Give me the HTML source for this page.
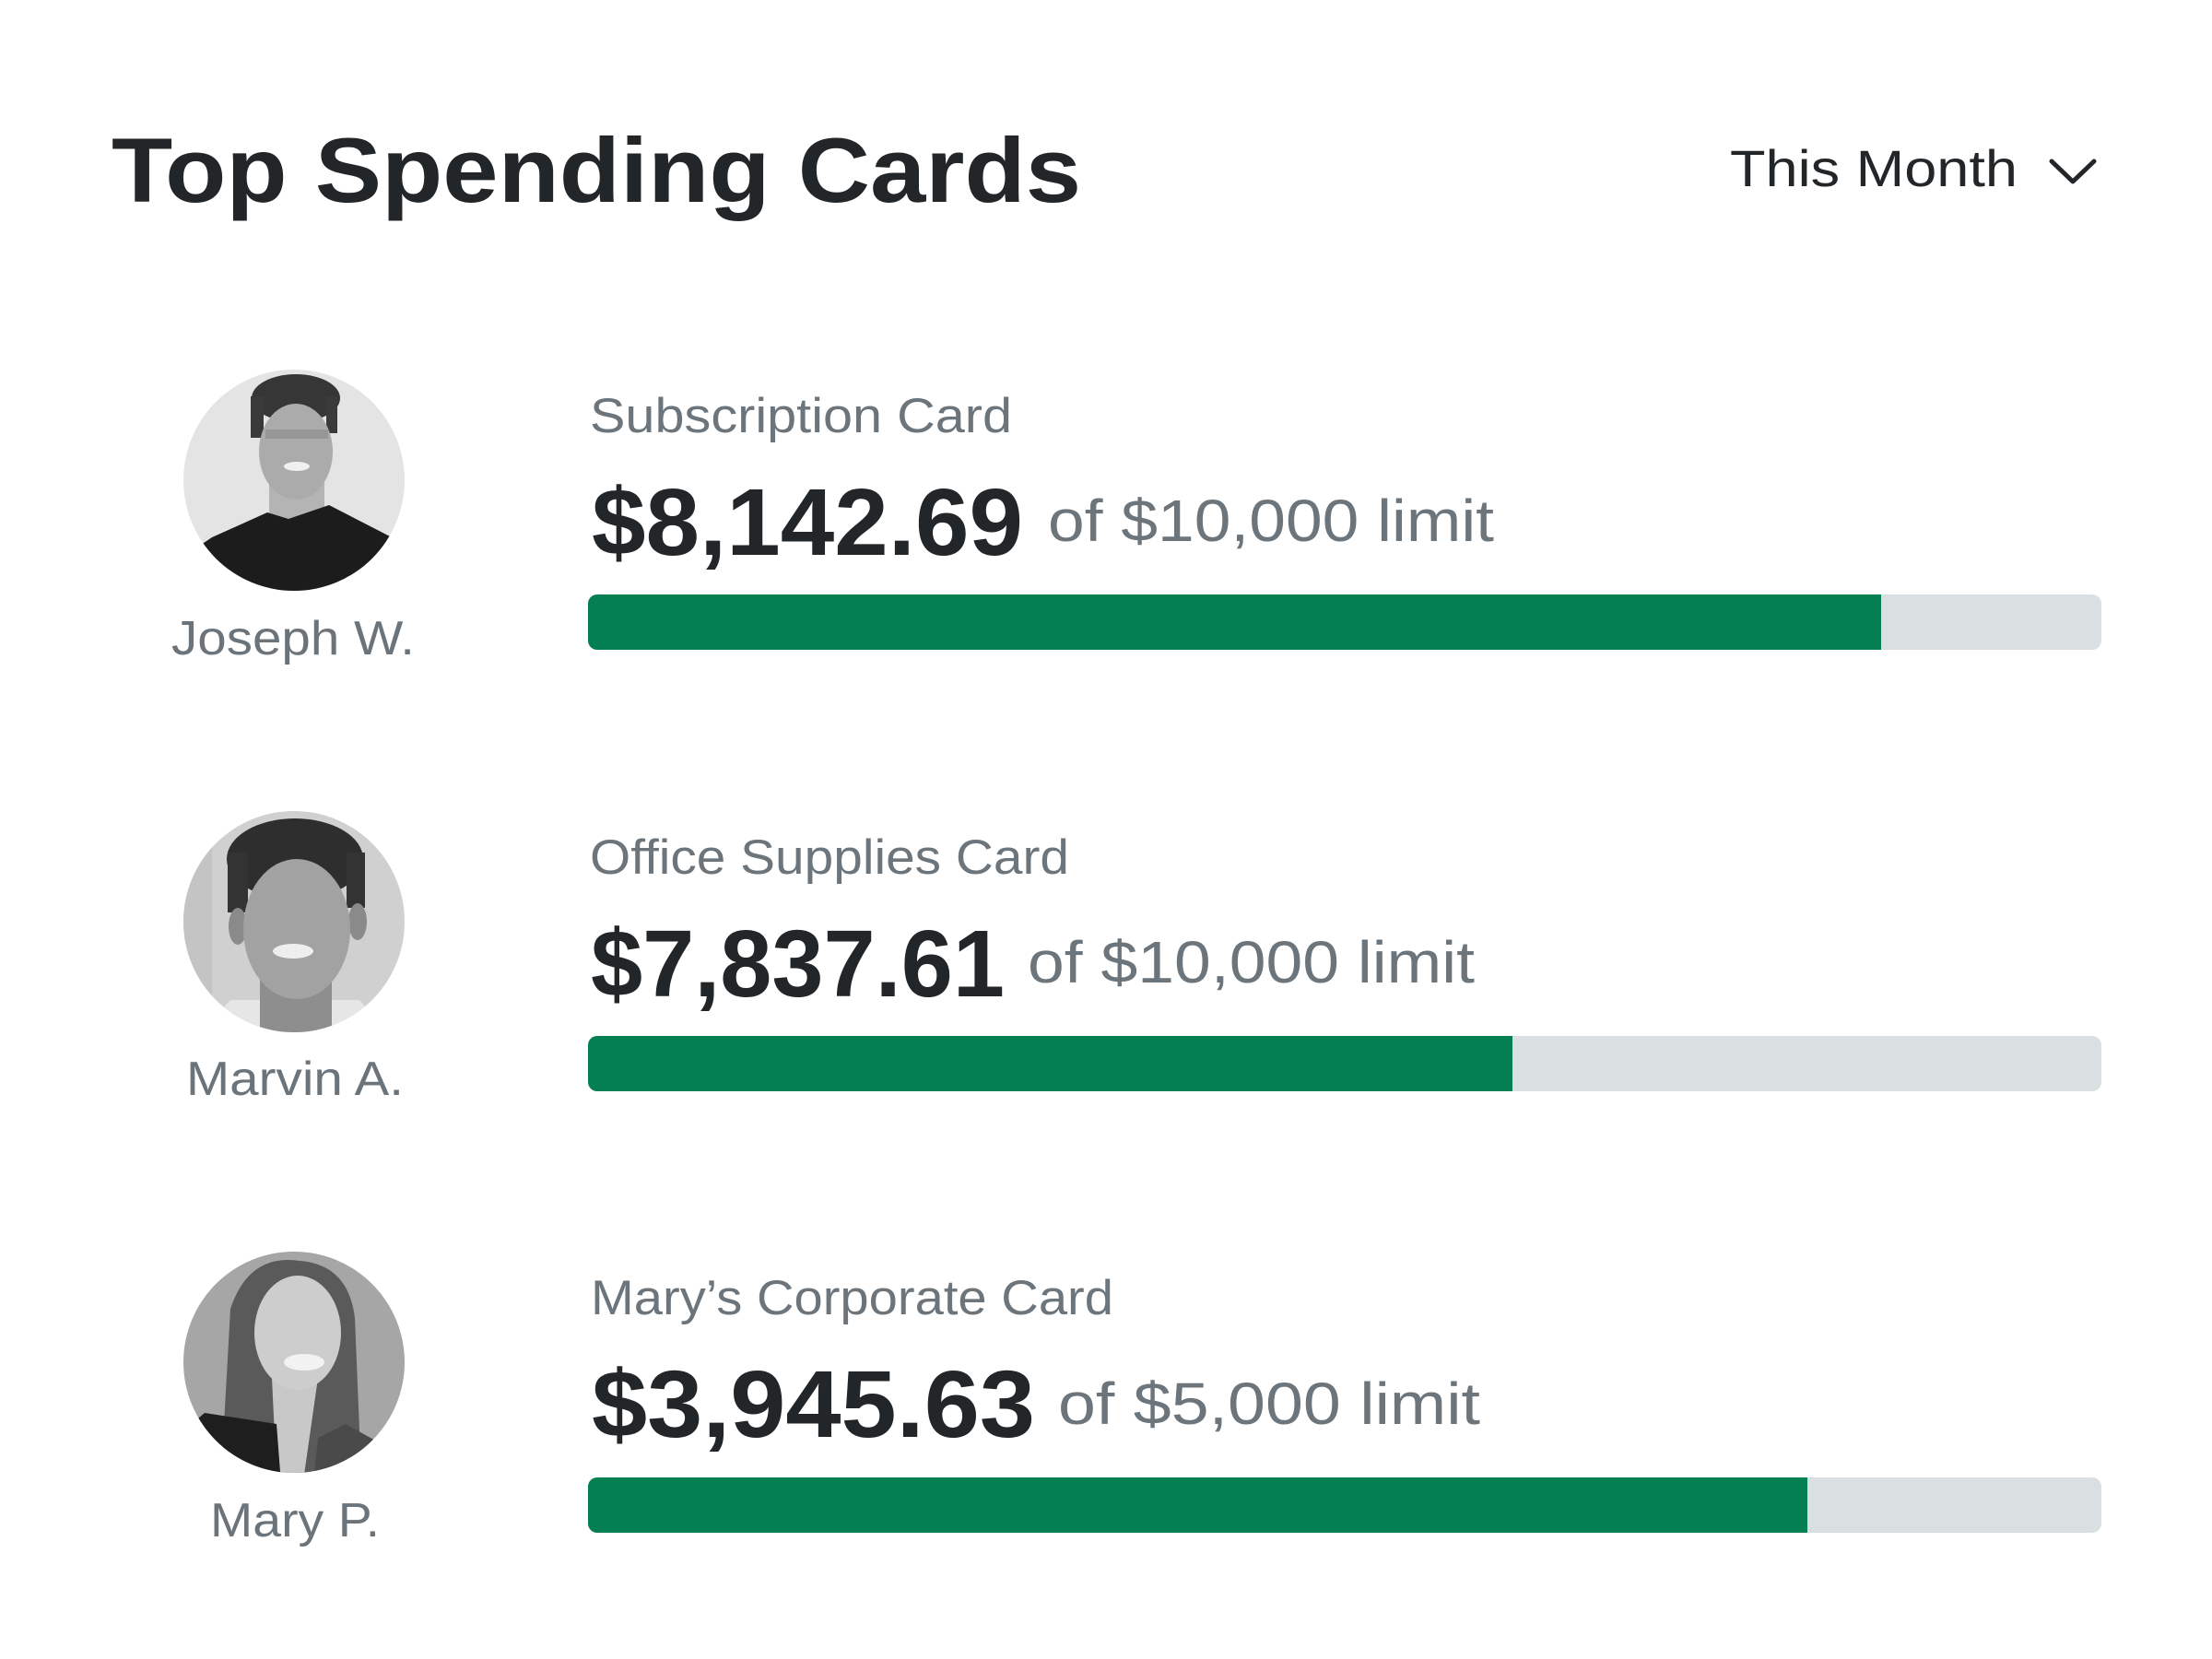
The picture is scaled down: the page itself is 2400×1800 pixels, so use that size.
<!DOCTYPE html>
<html>
<head>
<meta charset="utf-8">
<style>
  html, body { margin:0; padding:0; background:#ffffff; }
  body { width:2400px; height:1800px; overflow:hidden; }
  svg { display:block; }
  text { font-family: "Liberation Sans", "DejaVu Sans", sans-serif; }
</style>
</head>
<body>
<svg width="2400" height="1800" viewBox="0 0 2400 1800" xmlns="http://www.w3.org/2000/svg">
  <defs>
    <clipPath id="av1"><circle cx="319" cy="521" r="120"/></clipPath>
    <clipPath id="av2"><circle cx="319" cy="1000" r="120"/></clipPath>
    <clipPath id="av3"><circle cx="319" cy="1478" r="120"/></clipPath>
    <clipPath id="bar1"><rect x="638" y="645" width="1642" height="60" rx="10"/></clipPath>
    <clipPath id="bar2"><rect x="638" y="1124" width="1642" height="60" rx="10"/></clipPath>
    <clipPath id="bar3"><rect x="638" y="1603" width="1642" height="60" rx="10"/></clipPath>
  </defs>

  <rect x="0" y="0" width="2400" height="1800" fill="#ffffff"/>

  <!-- Header -->
  <text x="121" y="219" font-size="99" font-weight="700" fill="#232629" textLength="1052" lengthAdjust="spacingAndGlyphs">Top Spending Cards</text>
  <text x="1877" y="202" font-size="56" fill="#232629" textLength="312" lengthAdjust="spacingAndGlyphs">This Month</text>
  <polyline points="2226,175 2249,197 2272,175" fill="none" stroke="#232629" stroke-width="5" stroke-linecap="round" stroke-linejoin="round"/>

  <!-- Avatar 1: Joseph -->
  <g clip-path="url(#av1)">
    <rect x="190" y="395" width="260" height="260" fill="#e4e4e4"/>
    <rect x="292" y="500" width="60" height="70" fill="#b4b4b4"/>
    <ellipse cx="321" cy="432" rx="48" ry="26" fill="#363636"/>
    <rect x="272" y="430" width="14" height="45" fill="#3a3a3a"/>
    <rect x="354" y="430" width="12" height="40" fill="#3a3a3a"/>
    <ellipse cx="321" cy="490" rx="40" ry="52" fill="#ababab"/>
    <rect x="288" y="466" width="68" height="10" fill="#8a8a8a" opacity="0.6"/>
    <ellipse cx="322" cy="506" rx="14" ry="5" fill="#f0f0f0"/>
    <path d="M190 610 L230 583 L290 556 L313 563 L357 548 L425 583 L450 660 L190 660 Z" fill="#1c1c1c"/>
  </g>

  <!-- Avatar 2: Marvin -->
  <g clip-path="url(#av2)">
    <rect x="190" y="875" width="260" height="260" fill="#d0d0d0"/>
    <rect x="190" y="875" width="40" height="260" fill="#c4c4c4"/>
    <path d="M250 1085 L390 1085 L430 1130 L210 1130 Z" fill="#e6e6e6"/>
    <rect x="282" y="1060" width="78" height="70" fill="#8e8e8e"/>
    <ellipse cx="320" cy="932" rx="74" ry="44" fill="#2e2e2e"/>
    <rect x="247" y="925" width="22" height="65" fill="#333333"/>
    <rect x="376" y="925" width="20" height="60" fill="#333333"/>
    <ellipse cx="258" cy="1005" rx="10" ry="20" fill="#8a8a8a"/>
    <ellipse cx="388" cy="1000" rx="10" ry="20" fill="#8a8a8a"/>
    <ellipse cx="322" cy="1008" rx="58" ry="76" fill="#a2a2a2"/>
    <ellipse cx="318" cy="1032" rx="22" ry="8" fill="#eeeeee"/>
  </g>

  <!-- Avatar 3: Mary -->
  <g clip-path="url(#av3)">
    <rect x="190" y="1350" width="260" height="260" fill="#a6a6a6"/>
    <path d="M250 1420 Q270 1360 325 1368 Q378 1372 385 1430 L392 1600 L240 1600 Z" fill="#5a5a5a"/>
    <path d="M295 1495 L345 1495 L330 1600 L300 1600 Z" fill="#c8c8c8"/>
    <ellipse cx="323" cy="1446" rx="47" ry="62" fill="#cdcdcd"/>
    <ellipse cx="330" cy="1478" rx="22" ry="9" fill="#f2f2f2"/>
    <path d="M190 1560 L222 1533 L300 1545 L305 1610 L190 1610 Z" fill="#1e1e1e"/>
    <path d="M345 1560 L375 1545 L420 1570 L420 1610 L340 1610 Z" fill="#4a4a4a"/>
  </g>

  <!-- Names -->
  <text x="186" y="710" font-size="52" fill="#6b747a" textLength="264" lengthAdjust="spacingAndGlyphs">Joseph W.</text>
  <text x="202" y="1188" font-size="52" fill="#6b747a" textLength="236" lengthAdjust="spacingAndGlyphs">Marvin A.</text>
  <text x="228" y="1667" font-size="52" fill="#6b747a" textLength="184" lengthAdjust="spacingAndGlyphs">Mary P.</text>

  <!-- Row 1 -->
  <text x="640" y="469" font-size="53" fill="#6c757b" textLength="458" lengthAdjust="spacingAndGlyphs">Subscription Card</text>
  <text x="642" y="602" font-size="103" font-weight="700" fill="#222629" textLength="468" lengthAdjust="spacingAndGlyphs">$8,142.69</text>
  <text x="1137" y="587" font-size="64" fill="#6c757b" textLength="484" lengthAdjust="spacingAndGlyphs">of $10,000 limit</text>
  <g clip-path="url(#bar1)">
    <rect x="638" y="645" width="1642" height="60" fill="#dae0e2"/>
    <rect x="638" y="645" width="1403" height="60" fill="#037f51"/>
  </g>

  <!-- Row 2 -->
  <text x="640" y="948" font-size="53" fill="#6c757b" textLength="520" lengthAdjust="spacingAndGlyphs">Office Supplies Card</text>
  <text x="641" y="1081" font-size="103" font-weight="700" fill="#222629" textLength="449" lengthAdjust="spacingAndGlyphs">$7,837.61</text>
  <text x="1115" y="1066" font-size="64" fill="#6c757b" textLength="485" lengthAdjust="spacingAndGlyphs">of $10,000 limit</text>
  <g clip-path="url(#bar2)">
    <rect x="638" y="1124" width="1642" height="60" fill="#dae0e2"/>
    <rect x="638" y="1124" width="1003" height="60" fill="#037f51"/>
  </g>

  <!-- Row 3 -->
  <text x="641" y="1426" font-size="53" fill="#6c757b" textLength="567" lengthAdjust="spacingAndGlyphs">Mary’s Corporate Card</text>
  <text x="642" y="1559" font-size="103" font-weight="700" fill="#222629" textLength="481" lengthAdjust="spacingAndGlyphs">$3,945.63</text>
  <text x="1148" y="1545" font-size="64" fill="#6c757b" textLength="458" lengthAdjust="spacingAndGlyphs">of $5,000 limit</text>
  <g clip-path="url(#bar3)">
    <rect x="638" y="1603" width="1642" height="60" fill="#dae0e2"/>
    <rect x="638" y="1603" width="1323" height="60" fill="#037f51"/>
  </g>
</svg>
</body>
</html>
